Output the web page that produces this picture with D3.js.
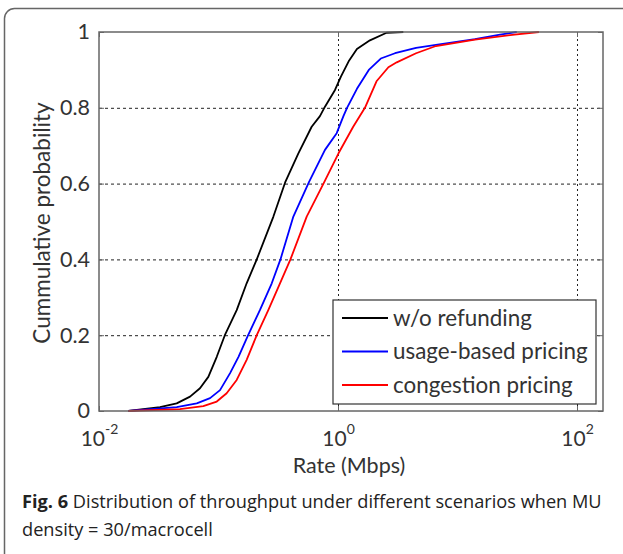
<!DOCTYPE html>
<html>
<head>
<meta charset="utf-8">
<script src="https://cdn.jsdelivr.net/npm/d3@7"></script>
<style>
  body { margin: 0; background: #fff; }
  svg { display: block; }
</style>
</head>
<body>
<svg id="chart" width="623" height="554"></svg>
<script>
// CDF curves: [rate in Mbps, cumulative probability]
const noRefund = [
  [0.0176, 0.000], [0.0324, 0.010], [0.0447, 0.020], [0.0578, 0.038], [0.070, 0.060],
  [0.0822, 0.090], [0.0967, 0.143], [0.113, 0.200], [0.142, 0.266], [0.172, 0.337],
  [0.209, 0.400], [0.288, 0.513], [0.361, 0.603], [0.466, 0.680], [0.602, 0.750],
  [0.706, 0.778], [0.778, 0.803], [0.944, 0.847], [1.06, 0.883], [1.24, 0.925],
  [1.44, 0.955], [1.85, 0.978], [2.55, 0.998], [3.52, 1.000]
];
const usageBased = [
  [0.0176, 0.000], [0.0447, 0.010], [0.0658, 0.020], [0.085, 0.034], [0.103, 0.055],
  [0.125, 0.100], [0.147, 0.143], [0.177, 0.200], [0.222, 0.266], [0.279, 0.337],
  [0.330, 0.400], [0.423, 0.513], [0.570, 0.603], [0.778, 0.689], [0.975, 0.733],
  [1.11, 0.778], [1.19, 0.800], [1.44, 0.850], [1.81, 0.900], [2.28, 0.930],
  [3.0, 0.944], [4.5, 0.958], [6.6, 0.966], [14, 0.981], [22.7, 0.993], [31.3, 1.000]
];
const congestion = [
  [0.0176, 0.000], [0.0476, 0.005], [0.0746, 0.013], [0.0967, 0.025], [0.117, 0.047],
  [0.142, 0.082], [0.172, 0.135], [0.209, 0.200], [0.261, 0.266], [0.327, 0.337],
  [0.400, 0.400], [0.547, 0.513], [0.765, 0.603], [1.01, 0.680], [1.34, 0.750],
  [1.68, 0.800], [2.1, 0.870], [2.64, 0.907], [3.1, 0.920], [4.5, 0.944],
  [6.6, 0.963], [14, 0.980], [30, 0.993], [48, 1.000]
];

const seriesNames = ['w/o refunding', 'usage-based pricing', 'congestion pricing'];
const seriesColors = ['#000000', '#0000ff', '#ff0000'];
const seriesData = [noRefund, usageBased, congestion];

const yTicks = [0, 0.2, 0.4, 0.6, 0.8, 1];
const yGrid = [0.2, 0.4, 0.6, 0.8];
const xTicks = [0.01, 1, 100];
const xTickExp = ['-2', '0', '2'];
const xGrid = [1, 100];

const xLabel = 'Rate (Mbps)';
const yLabel = 'Cummulative probability';
const captionBold = 'Fig. 6';
const captionRest = ' Distribution of throughput under different scenarios when MU';
const captionLine2 = 'density = 30/macrocell';

// Layout
const plot = { left: 99, right: 603, top: 32, bottom: 411 };
const chartFont = 'Lato, "Open Sans", sans-serif';
const captionFont = '"Open Sans", "Noto Sans", sans-serif';

const svg = d3.select('#chart');

// outer rounded frame of the figure box
svg.append('rect')
  .attr('x', 4.5).attr('y', 8.5)
  .attr('width', 700).attr('height', 600)
  .attr('rx', 10)
  .attr('fill', 'none')
  .attr('stroke', '#666')
  .attr('stroke-width', 1.5);

// scales
const x = d3.scaleLog().domain([0.01, 165]).range([plot.left, plot.right]);
const y = d3.scaleLinear().domain([0, 1]).range([plot.bottom, plot.top]);

// grid lines
svg.append('g')
  .attr('transform', `translate(0,${plot.bottom})`)
  .call(d3.axisBottom(x).tickValues(xGrid).tickSize(-(plot.bottom - plot.top)).tickFormat(''))
  .call(g => g.select('.domain').remove())
  .call(g => g.selectAll('line').attr('stroke', '#222').attr('stroke-dasharray', '2,3'));

svg.append('g')
  .attr('transform', `translate(${plot.left},0)`)
  .call(d3.axisLeft(y).tickValues(yGrid).tickSize(-(plot.right - plot.left)).tickFormat(''))
  .call(g => g.select('.domain').remove())
  .call(g => g.selectAll('line').attr('stroke', '#222').attr('stroke-dasharray', '3,3'));

// curves
const line = d3.line()
  .x(d => x(d[0]))
  .y(d => y(d[1]));

seriesData.forEach((data, i) => {
  svg.append('path')
    .datum(data)
    .attr('fill', 'none')
    .attr('stroke', seriesColors[i])
    .attr('stroke-width', 1.8)
    .attr('stroke-linejoin', 'round')
    .attr('d', line);
});

// plot box
svg.append('rect')
  .attr('x', plot.left).attr('y', plot.top)
  .attr('width', plot.right - plot.left).attr('height', plot.bottom - plot.top)
  .attr('fill', 'none')
  .attr('stroke', '#666')
  .attr('stroke-width', 1.5);

// y axis with labels
svg.append('g')
  .attr('transform', `translate(${plot.left},0)`)
  .call(d3.axisLeft(y).tickValues(yTicks).tickSize(0).tickPadding(9).tickFormat(d => d === 0 || d === 1 ? d : d3.format('.1f')(d)))
  .call(g => g.select('.domain').remove())
  .call(g => g.selectAll('text')
    .attr('font-family', chartFont)
    .attr('font-size', 21.5)
    .attr('fill', '#333'));

// inner tick marks
svg.append('g')
  .attr('transform', `translate(${plot.left},0)`)
  .call(d3.axisRight(y).tickValues(yTicks).tickSize(5).tickFormat(''))
  .call(g => g.select('.domain').remove())
  .call(g => g.selectAll('line').attr('stroke', '#666'));
svg.append('g')
  .attr('transform', `translate(${plot.right},0)`)
  .call(d3.axisLeft(y).tickValues(yTicks).tickSize(5).tickFormat(''))
  .call(g => g.select('.domain').remove())
  .call(g => g.selectAll('line').attr('stroke', '#666'));

// x axis: ticks and 10^n labels
const xAxis = svg.append('g')
  .attr('transform', `translate(0,${plot.bottom})`)
  .call(d3.axisTop(x).tickValues(xTicks).tickSize(5).tickFormat(''))
  .call(g => g.select('.domain').remove())
  .call(g => g.selectAll('line').attr('stroke', '#666'));

xAxis.selectAll('.tick').each(function(d, i) {
  const t = d3.select(this).append('text')
    .attr('y', 35)
    .attr('text-anchor', 'middle')
    .attr('font-family', chartFont)
    .attr('fill', '#333');
  t.append('tspan').attr('font-size', 21).text('10');
  t.append('tspan').attr('font-size', 14).attr('dy', -12).text(xTickExp[i]);
});

svg.append('g')
  .attr('transform', `translate(0,${plot.top})`)
  .call(d3.axisBottom(x).tickValues(xTicks).tickSize(5).tickFormat(''))
  .call(g => g.select('.domain').remove())
  .call(g => g.selectAll('line').attr('stroke', '#666'));

// axis titles
svg.append('text')
  .attr('x', 349).attr('y', 473)
  .attr('text-anchor', 'middle')
  .attr('font-family', chartFont)
  .attr('font-size', 21.5)
  .attr('fill', '#333')
  .text(xLabel);

svg.append('text')
  .attr('transform', 'translate(50,223) rotate(-90)')
  .attr('text-anchor', 'middle')
  .attr('font-family', chartFont)
  .attr('font-size', 22.5)
  .attr('fill', '#333')
  .text(yLabel);

// legend
const legend = svg.append('g').attr('transform', 'translate(333,300)');
legend.append('rect')
  .attr('width', 263).attr('height', 104)
  .attr('fill', '#fff')
  .attr('stroke', '#333')
  .attr('stroke-width', 1.2);

seriesNames.forEach((name, i) => {
  const row = legend.append('g').attr('transform', `translate(0,${18 + i * 33.5})`);
  row.append('line')
    .attr('x1', 9).attr('x2', 55)
    .attr('stroke', seriesColors[i])
    .attr('stroke-width', 1.8);
  row.append('text')
    .attr('x', 60).attr('y', 7.5)
    .attr('font-family', chartFont)
    .attr('font-size', 22.4)
    .attr('fill', '#333')
    .text(name);
});

// caption
const cap = svg.append('text')
  .attr('x', 22).attr('y', 508)
  .attr('font-family', captionFont)
  .attr('font-size', 18.2)
  .attr('fill', '#222');
cap.append('tspan').attr('font-weight', 'bold').text(captionBold);
cap.append('tspan').text(captionRest);

svg.append('text')
  .attr('x', 22).attr('y', 536)
  .attr('font-family', captionFont)
  .attr('font-size', 18.2)
  .attr('fill', '#222')
  .text(captionLine2);
</script>
</body>
</html>
